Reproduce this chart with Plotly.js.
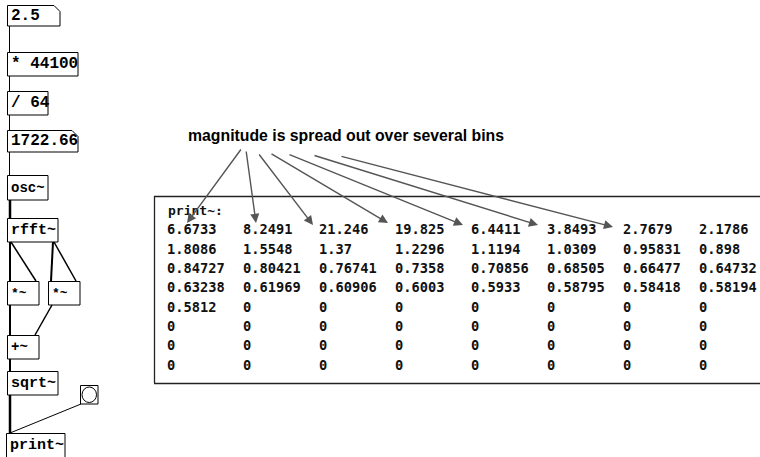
<!DOCTYPE html>
<html>
<head>
<meta charset="utf-8">
<script src="https://cdn.plot.ly/plotly-3.0.1.min.js"></script>
<style>html,body{margin:0;padding:0;background:#fff;}#chart{width:760px;height:457px;}</style>
</head>
<body>
<div id="chart"></div>
<script>
// ---- data: printed magnitudes of the 64-point rfft~ (8 per printed row) ----
var magnitudes = [
  6.6733, 8.2491, 21.246, 19.825, 6.4411, 3.8493, 2.7679, 2.1786,
  1.8086, 1.5548, 1.37, 1.2296, 1.1194, 1.0309, 0.95831, 0.898,
  0.84727, 0.80421, 0.76741, 0.7358, 0.70856, 0.68505, 0.66477, 0.64732,
  0.63238, 0.61969, 0.60906, 0.6003, 0.5933, 0.58795, 0.58418, 0.58194,
  0.5812, 0, 0, 0, 0, 0, 0, 0,
  0, 0, 0, 0, 0, 0, 0, 0,
  0, 0, 0, 0, 0, 0, 0, 0,
  0, 0, 0, 0, 0, 0, 0, 0
];
var valuesPerRow = 8;
var arrowedBins = [0, 1, 2, 3, 4, 5, 6];
var patchLabels = ["2.5", "* 44100", "/ 64", "1722.66", "osc~", "rfft~", "*~", "*~", "+~", "sqrt~", "print~"];
var noteText = "magnitude is spread out over several bins";
var printHeader = "print~:";

// ---- derived grid positions (column / row index) ----
var cols = magnitudes.map(function (v, i) { return i % valuesPerRow; });
var rows = magnitudes.map(function (v, i) { return Math.floor(i / valuesPerRow); });
var texts = magnitudes.map(function (v) { return String(v); });

var W = 760, H = 457;
var colStep = 76, col0 = 167, rowStep = 19.3, row0 = 231;
function gx(px) { return (px - col0) / colStep; }
function gy(py) { return (py - row0) / rowStep; }

var traces = [{
  type: 'scatter', mode: 'text', x: cols, y: rows, text: texts,
  textposition: 'middle right', xaxis: 'x2', yaxis: 'y2',
  textfont: {family: 'DejaVu Sans Mono', size: 13.7, color: '#111', weight: 'bold'},
  hoverinfo: 'skip', cliponaxis: false
}];

var black = '#000';
var shapes = [];
function rect(x0, y0, x1, y1) {
  shapes.push({type: 'rect', xref: 'x', yref: 'y', x0: x0, y0: y0, x1: x1, y1: y1,
    line: {color: black, width: 1}, fillcolor: 'rgba(0,0,0,0)'});
}
function numbox(x0, y0, x1, y1) {
  var p = 'M' + x0 + ',' + y0 + ' L' + (x1 - 6) + ',' + y0 + ' L' + x1 + ',' + (y0 + 6) +
    ' L' + x1 + ',' + y1 + ' L' + x0 + ',' + y1 + ' Z';
  shapes.push({type: 'path', xref: 'x', yref: 'y', path: p, line: {color: black, width: 1}});
}
function wire(x0, y0, x1, y1, w) {
  shapes.push({type: 'line', xref: 'x', yref: 'y', x0: x0, y0: y0, x1: x1, y1: y1,
    line: {color: black, width: w}});
}

// patch boxes [x0,y0,x1,y1]
var boxes = [
  [7.5, 5.5, 60, 26, 'num'], [7.5, 52.5, 78, 76], [7.5, 91.5, 48, 115], [7.5, 130.5, 78, 152, 'num'],
  [7.5, 175.5, 48, 200], [7.5, 218.5, 58, 242], [7.5, 281.5, 39, 305], [48.5, 281.5, 80, 305],
  [7.5, 335.5, 39, 359], [7.5, 371.5, 58, 395], [6.5, 433.5, 65, 460]
];
boxes.forEach(function (b) { if (b[4] === 'num') numbox(b[0], b[1], b[2], b[3]); else rect(b[0], b[1], b[2], b[3]); });

// wires
wire(9.5, 26, 9.5, 52, 1); wire(9.5, 76, 9.5, 91, 1); wire(9.5, 115, 9.5, 130, 1);
wire(9.5, 152, 9.5, 175, 1);
wire(10, 200, 10, 218, 2.5);
wire(10, 242, 10, 281, 2); wire(11, 242, 36, 281, 1.5);
wire(53, 242, 51, 281, 2); wire(54, 242, 76, 281, 1.5);
wire(10, 305, 10, 335, 2); wire(52, 305, 35, 335, 1.5);
wire(10, 359, 10, 371, 2);
wire(10, 395, 10, 433, 2.5);
wire(81, 404, 10, 433, 1);

// bang
rect(80.5, 385.5, 98, 404);
shapes.push({type: 'circle', xref: 'x', yref: 'y', x0: 82, y0: 387, x1: 96.5, y1: 402.5, line: {color: black, width: 1}});

// print window
shapes.push({type: 'line', xref: 'x', yref: 'y', x0: 154, y0: 196.5, x1: 760, y1: 196.5, line: {color: '#222', width: 1.3}});
shapes.push({type: 'line', xref: 'x', yref: 'y', x0: 154.5, y0: 196, x1: 154.5, y1: 383, line: {color: '#222', width: 1.3}});
shapes.push({type: 'line', xref: 'x', yref: 'y', x0: 154, y0: 383.5, x1: 760, y1: 383.5, line: {color: '#222', width: 1.5}});

var annotations = [];
var labelPos = [[9, 16], [9, 64], [9, 103], [9, 141], [9, 188], [9, 230], [9, 293], [50, 293], [9, 347], [9, 383], [8, 445]];
var labelSize = [16, 16, 16, 16, 14, 15, 13, 13, 14, 15, 15];
patchLabels.forEach(function (t, i) {
  annotations.push({xref: 'x', yref: 'y', x: labelPos[i][0], y: labelPos[i][1], text: t,
    showarrow: false, xanchor: 'left', yanchor: 'middle',
    font: {family: 'Liberation Mono', size: labelSize[i], color: '#000', weight: 'bold'}});
});

annotations.push({xref: 'x', yref: 'y', x: 346, y: 135, text: noteText, showarrow: false,
  xanchor: 'center', yanchor: 'middle',
  font: {family: 'Liberation Sans', size: 15.8, color: '#000', weight: 'bold'}});
annotations.push({xref: 'x', yref: 'y', x: 166, y: 210, text: printHeader, showarrow: false,
  xanchor: 'left', yanchor: 'middle',
  font: {family: 'DejaVu Sans Mono', size: 13, color: '#111', weight: 'bold'}});

// arrows from the note to the bins (head near the value, tail under the note)
var tails = [[242, 148], [246, 150], [258, 153], [270, 153], [288, 154], [313, 155], [340, 156]];
var headOff = [[20, -8], [13, -8], [-6, -6], [-7, -8], [-8, -6], [-9, -6], [-10, -4]];
arrowedBins.forEach(function (b, k) {
  annotations.push({xref: 'x2', yref: 'y2', x: cols[b] + headOff[k][0] / colStep, y: rows[b] + headOff[k][1] / rowStep,
    axref: 'x2', ayref: 'y2', ax: gx(tails[k][0]), ay: gy(tails[k][1]), text: '',
    showarrow: true, arrowhead: 2, arrowsize: 1.3, arrowwidth: 1.4, arrowcolor: '#555', standoff: 0});
});

var layout = {
  width: W, height: H, margin: {l: 0, r: 0, t: 0, b: 0},
  paper_bgcolor: '#fff', plot_bgcolor: '#fff', showlegend: false,
  xaxis: {range: [0, W], visible: false, fixedrange: true},
  yaxis: {range: [H, 0], visible: false, fixedrange: true},
  xaxis2: {overlaying: 'x', range: [gx(0), gx(W)], visible: false, fixedrange: true},
  yaxis2: {overlaying: 'y', range: [gy(H), gy(0)], visible: false, fixedrange: true},
  shapes: shapes, annotations: annotations
};
Plotly.newPlot('chart', traces, layout, {staticPlot: true, displayModeBar: false});
</script>
</body>
</html>
